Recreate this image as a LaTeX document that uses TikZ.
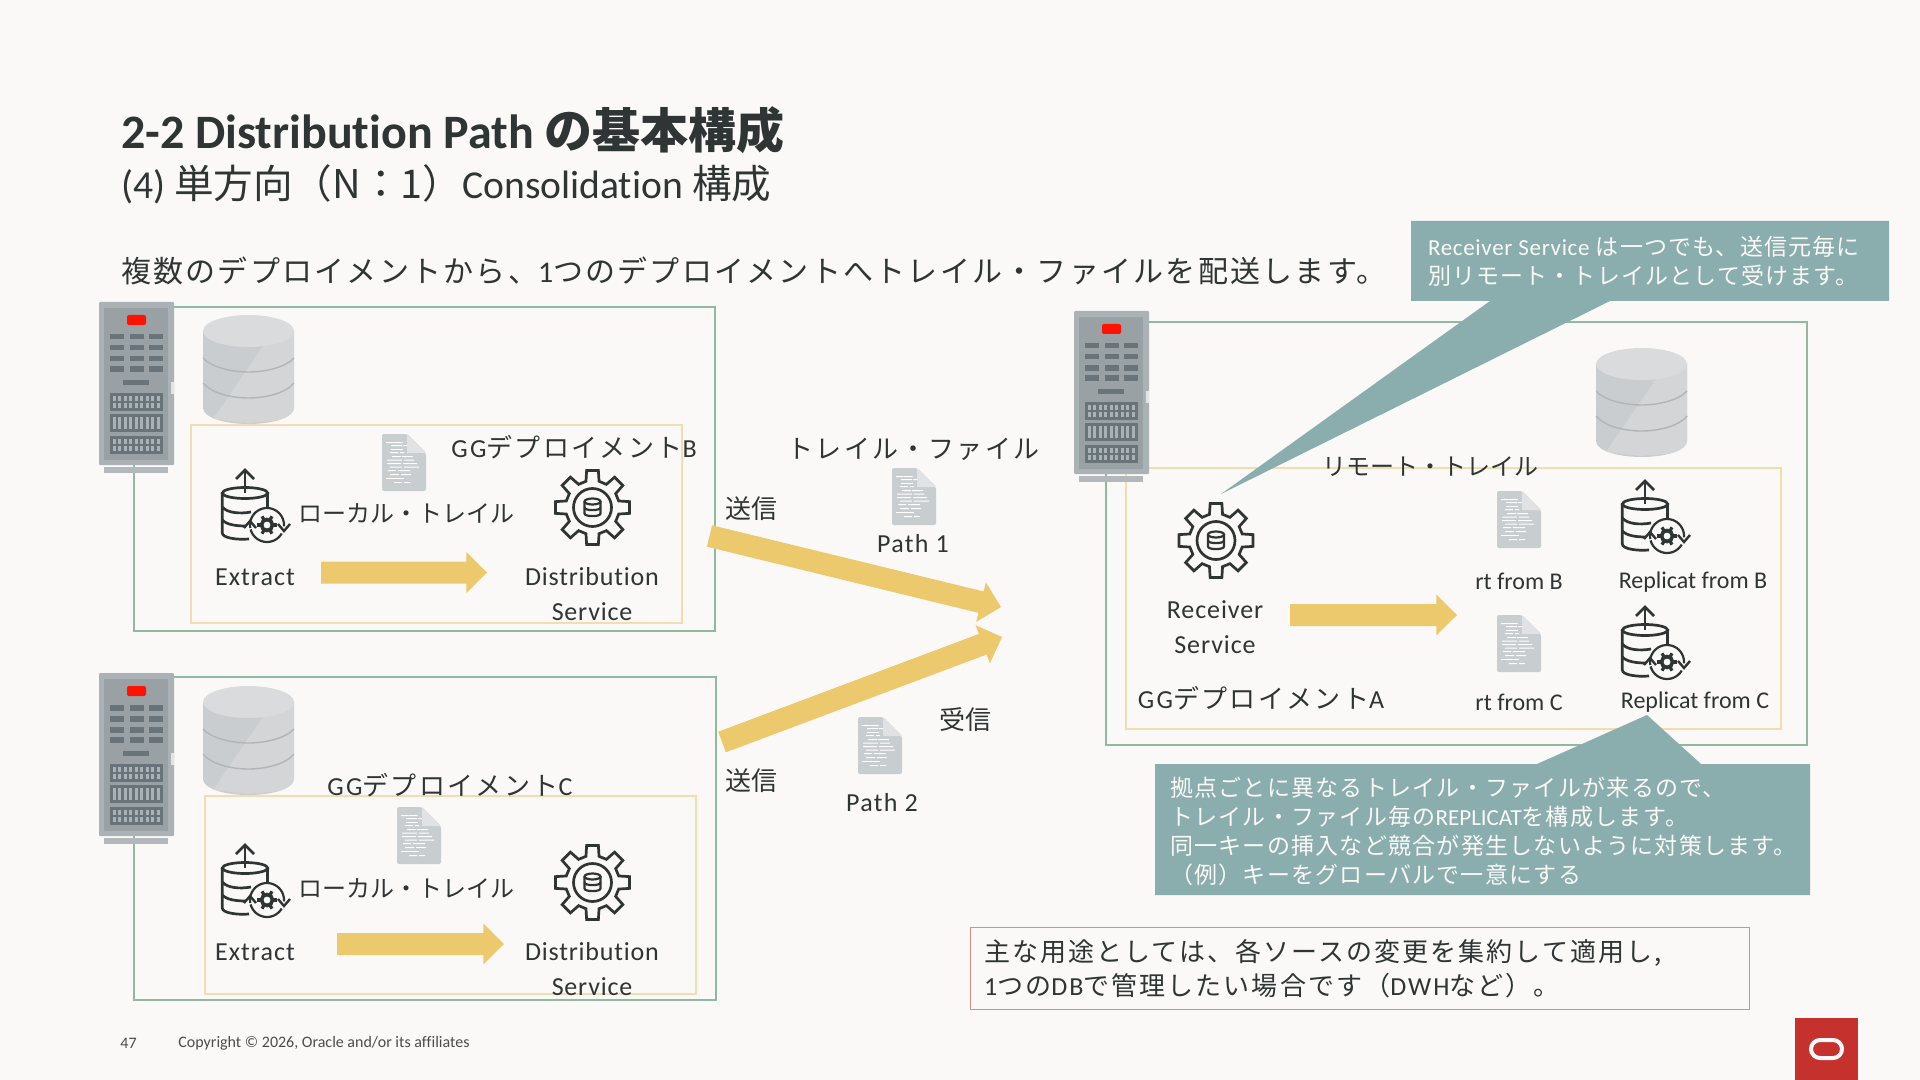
\documentclass[tikz,border=0pt]{standalone}
\usepackage{fontspec}
\usetikzlibrary{calc}
\setmainfont{Carlito}[Ligatures=NoCommon]
\newfontfamily\jf{Noto Sans CJK JP}
\def\jls{}
\newcommand\J[1]{{\jf\jls #1}}
\newcommand\Sz[3]{\fontsize{#1}{#2}\selectfont\def\jls{\addfontfeature{LetterSpace=#3}}\jls}
\newcommand\Tight[2]{{\addfontfeature{LetterSpace=#1}#2}}
\definecolor{bgc}{HTML}{FBF9F8}
\definecolor{ink}{HTML}{2F3434}
\definecolor{frameg}{HTML}{8FB9A0}
\definecolor{frameo}{HTML}{F3DDB0}
\definecolor{flowc}{HTML}{EDC96E}
\definecolor{teal}{HTML}{89AEAD}
\definecolor{redl}{HTML}{DC8C86}
\definecolor{orared}{HTML}{C5322E}
\definecolor{srvo}{HTML}{ABB2B5}
\definecolor{srvi}{HTML}{99A1A5}
\definecolor{srvd}{HTML}{69747A}
\definecolor{srvb}{HTML}{B2B8BB}
\definecolor{docc}{HTML}{C8CDD0}
\definecolor{docf}{HTML}{E0E3E5}
\definecolor{dbtop}{HTML}{D9DBDD}
\definecolor{dbleft}{HTML}{CACDCF}
\definecolor{dbright}{HTML}{D3D5D7}
\definecolor{dbband}{HTML}{B0B5B7}
\newcommand\FlowArrow[2]{%
  \coordinate (hb) at ($(#2)!\fhl!(#1)$);
  \fill[flowc] ($(#1)!\fbw!90:(#2)$) -- ($(hb)!\fbw!90:(#2)$) -- ($(hb)!\fhw!90:(#2)$) -- (#2)
    -- ($(hb)!\fhw!-90:(#2)$) -- ($(hb)!\fbw!-90:(#2)$) -- ($(#1)!\fbw!-90:(#2)$) -- cycle;}
\def\fbw{5.5pt}\def\fhw{10.2pt}\def\fhl{10.3pt}
\tikzset{
  x=0.5pt,y=-0.5pt,
  lab/.style={inner sep=0pt,text=ink,outer sep=0pt},
  wlab/.style={inner sep=0pt,text=bgc,outer sep=0pt},
  gframe/.style={draw=frameg,line width=1.4pt},
  oframe/.style={draw=frameo,line width=0.6pt},
  icon/.style={draw=ink,line width=1.35pt,line join=miter},
  serverpic/.pic={
    \fill[srvo,rounded corners=0.5pt] (0,0) rectangle (75,163);
    \fill[srvi] (5,6) rectangle (69,158);
    \fill[srvb] (5,165) rectangle (69,171);
    \fill[bgc!70!srvo] (72,80) rectangle (75,92);
    \fill[red!85!orange,rounded corners=1pt] (28,13) rectangle (47,23);
    \foreach \r in {32,43,54,64}{
      \foreach \c in {11,31,50}{\fill[srvd] (\c,\r) rectangle ++(14,5.5);}}
    \fill[srvd] (24,78) rectangle (50,83);
    \fill[srvd] (11,91) rectangle (64,109);
    \fill[srvd] (11,112) rectangle (64,130);
    \fill[srvd] (11,134) rectangle (64,152);
    \foreach \c in {0,...,8}{
      \fill[srvo] ({13.5+\c*5.5},94) rectangle ++(3.4,4.5);
      \fill[srvo] ({13.5+\c*5.5},101) rectangle ++(3.4,4.5);
      \fill[srvo] ({13.5+\c*5.5},115) rectangle ++(3,12);
      \fill[srvo] ({13.5+\c*5.5},137) rectangle ++(3.4,4.5);
      \fill[srvo] ({13.5+\c*5.5},144) rectangle ++(3.4,4.5);}
  },
  dbpic/.pic={
    \path[fill=dbleft] (0,16) -- (0,93) .. controls (0,102) and (20,109) .. (45.5,109) .. controls (71,109) and (91,102) .. (91,93) -- (91,16) -- cycle;
    \begin{scope}
      \clip (0,16) -- (0,93) .. controls (0,102) and (20,109) .. (45.5,109) .. controls (71,109) and (91,102) .. (91,93) -- (91,16) -- cycle;
      \fill[dbright] (62,28) -- (91,14) -- (91,104) -- (45,108) -- (10,104) -- cycle;
    \end{scope}
    \fill[dbtop] (45.5,16) ellipse[x radius=45.5,y radius=16];
    \draw[dbband,line width=0.7pt] (0,43) .. controls (8,52) and (28,57) .. (45.5,57) .. controls (63,57) and (83,52) .. (91,43);
    \draw[dbband,line width=0.7pt] (0,68) .. controls (8,78) and (28,83) .. (45.5,83) .. controls (63,83) and (83,78) .. (91,68);
  },
  docpic/.pic={
    \fill[docc,rounded corners=1pt] (0,0) -- (25,0) -- (44,19) -- (44,57) -- (0,57) -- cycle;
    \fill[docf] (25,0) -- (44,19) -- (25,19) -- cycle;
    \fill[white] (4,8) rectangle ++(7,1) (11.5,8) rectangle ++(9,1);
    \fill[white] (9,11) rectangle ++(11,1) (21,11) rectangle ++(4,1);
    \fill[white] (9,14.5) rectangle ++(12,1);
    \fill[white] (8,18) rectangle ++(8,1) (18,18) rectangle ++(4,1);
    \fill[white] (10,22) rectangle ++(9,1) (20,22) rectangle ++(11,1);
    \fill[white] (5,25.5) rectangle ++(15,1) (22,25.5) rectangle ++(10,1);
    \fill[white] (5,29) rectangle ++(14,1) (21,29) rectangle ++(14,1);
    \fill[white] (8,32.5) rectangle ++(12,1) (22,32.5) rectangle ++(15,1);
    \fill[white] (6,36) rectangle ++(8,1) (16,36) rectangle ++(12,1);
    \fill[white] (8,40) rectangle ++(9,1) (19,40) rectangle ++(10,1);
    \fill[white] (4,44) rectangle ++(18,1);
    \fill[white] (12,48) rectangle ++(8,1) (22,48) rectangle ++(6,1);
  },
  gearpic/.pic={
    \draw[icon] (-14:27) \foreach \a in {0,45,...,315} { -- (\a-14:27) -- (\a-9:37.5) -- (\a+9:37.5) -- (\a+14:27) } -- cycle;
    \draw[icon] (0,0) circle[radius=19];
    \draw[icon,line width=1.1pt] (-8,-6) -- (-8,6) .. controls (-8,9.5) and (8,9.5) .. (8,6) -- (8,-6);
    \draw[icon,line width=1.1pt] (0,-6) ellipse[x radius=8,y radius=3];
    \draw[icon,line width=1.1pt] (-8,0) .. controls (-8,3.5) and (8,3.5) .. (8,0);
  },
  extractpic/.pic={
    \draw[icon] (30,28) -- (30,5);
    \draw[icon] (21,14) -- (30,5) -- (39,14);
    \draw[icon] (30,28) ellipse[x radius=22.7,y radius=5.5];
    \draw[icon] (7.3,28) -- (7.3,68) .. controls (7.3,73) and (22,75) .. (34,74);
    \draw[icon] (52.7,28) -- (52.7,44);
    \draw[icon] (7.3,42) .. controls (12,48) and (25,49) .. (36,47);
    \draw[icon] (7.3,55) .. controls (12,60) and (22,61) .. (31,61);
    \draw[icon,line width=1.1pt] plot[domain=190:-5,samples=24] ({52+17*cos(\x)},{60-17*sin(\x)});
    \draw[icon,line width=1.1pt] plot[domain=-30:-165,samples=20] ({52+17*cos(\x)},{60-17*sin(\x)});
    \draw[icon,line width=1.2pt] (29,63) -- (35,56) -- (41,63);
    \draw[icon,line width=1.2pt] (63,59) -- (69,66) -- (75,59);
    \draw[ink,line width=1.8pt] (52,60) circle[radius=5.5];
    \foreach \a in {0,60,...,300}{\draw[ink,line width=1.6pt] ($(52,60)+(\a:5)$) -- ($(52,60)+(\a:10)$);}
  },
}
\begin{document}
\begin{tikzpicture}
\useasboundingbox (0,0) rectangle (1920,1080);
\fill[bgc] (0,0) rectangle (1920,1080);

% title
\node[lab,anchor=base west] (title) at (121,149) {\Sz{24}{28}{0}\bfseries 2-2 Distribution Path \J{の基本構成}};
\node[lab,anchor=base west] (subtitle) at (121,199) {\Sz{19.8}{24}{0}(4) \J{単方向（N：1）}Consolidation \J{構成}};
\node[lab,anchor=base west] (intro) at (121,283) {\Sz{15}{18}{7.5}\J{複数のデプロイメントから、}1\J{つのデプロイメントへトレイル・ファイルを配送します。}};

% frames B
\draw[gframe] (134,307) rectangle (715,631);
\draw[oframe] (191,425) rectangle (682,623);
% frames C
\draw[gframe] (134,677) rectangle (716,1000);
\draw[oframe] (205,796) rectangle (696,994);
% frames A
\draw[gframe] (1106,322) rectangle (1807,745);
\draw[oframe] (1126,468) rectangle (1781,729);

% servers and databases
\pic (srvb) at (99,302) {serverpic};
\pic (srvc) at (99,673) {serverpic};
\pic (srva) at (1074,311) {serverpic};
\pic (dbb) at (203,315) {dbpic};
\pic (dbc) at (203,686) {dbpic};
\pic (dba) at (1596,348) {dbpic};

% documents
\pic (docb) at (382,434) {docpic};
\pic (docc1) at (397,807) {docpic};
\pic (docp1) at (892,468) {docpic};
\pic (docp2) at (858,717) {docpic};
\pic (docra) at (1497,491) {docpic};
\pic (docrb) at (1497,615) {docpic};

% icons
\pic (extb) at (215,465) {extractpic};
\pic (extc) at (215,840) {extractpic};
\pic (repb) at (1615,476) {extractpic};
\pic (repc) at (1615,602) {extractpic};
\pic (gearb) at (592.5,507.5) {gearpic};
\pic (gearc) at (592.5,882.5) {gearpic};
\pic (geara) at (1216,540.5) {gearpic};

% flow arrows
\coordinate (fb1) at (321,572.5); \coordinate (fb2) at (487,572.5);
\coordinate (fc1) at (337,944); \coordinate (fc2) at (504,944);
\coordinate (fa1) at (1290,615); \coordinate (fa2) at (1457,615);
\coordinate (p1a) at (709.5,536); \coordinate (p1b) at (1001,607);
\coordinate (p2a) at (722,742); \coordinate (p2b) at (1002,637);
\FlowArrow{fb1}{fb2}
\FlowArrow{fc1}{fc2}
\FlowArrow{fa1}{fa2}
\FlowArrow{p1a}{p1b}
\FlowArrow{p2a}{p2b}

% callouts
\fill[teal] (1411,221) -- (1889,221) -- (1889,301) -- (1610,301) -- (1221,494) -- (1490,301) -- (1411,301) -- cycle;
\fill[teal] (1155,764) -- (1537,764) -- (1647,715) -- (1701,764) -- (1810,764) -- (1810,895) -- (1155,895) -- cycle;
\node[wlab,anchor=west,align=left,font={\Sz{11.5}{14.5}{5}}] (note1) at (1428,261.5) {\Tight{3}{Receiver Service} \J{は一つでも、送信元毎に}\\\J{別リモート・トレイルとして受けます。}};
\node[wlab,anchor=west,align=left,font={\Sz{11.5}{14.5}{5.5}}] (note2) at (1170,831) {\J{拠点ごとに異なるトレイル・ファイルが来るので、}\\\J{トレイル・ファイル毎の}\Tight{0}{REPLICAT}\J{を構成します。}\\\J{同一キーの挿入など競合が発生しないように対策します。}\\\J{（例）キーをグローバルで一意にする}};

% red box
\draw[redl,line width=0.5pt,fill=bgc] (970,927) rectangle (1749,1009);
\node[lab,anchor=west,align=left,font={\Sz{13}{17}{8}}] (note3) at (984,969) {\J{主な用途としては、各ソースの変更を集約して適用し,}\\1\J{つの}DB\J{で管理したい場合です（}DWH\J{など）。}};

% labels B
\node[lab,font={\Sz{13}{16}{9}}] (gb) at (574,447) {GG\J{デプロイメント}B};
\node[lab,font={\Sz{12}{15}{0}}] (ltb) at (406.5,513) {\J{ローカル・トレイル}};
\node[lab,font={\Sz{13}{16}{4}}] (exb) at (255,577) {Extract};
\node[lab,align=center,font={\Sz{13}{17.5}{3}}] (dsb) at (592,594.5) {Distribution\\Service};
% labels C
\node[lab,font={\Sz{13}{16}{9}}] (gc) at (450,785) {GG\J{デプロイメント}C};
\node[lab,font={\Sz{12}{15}{0}}] (ltc) at (406.5,888) {\J{ローカル・トレイル}};
\node[lab,font={\Sz{13}{16}{4}}] (exc) at (255,952) {Extract};
\node[lab,align=center,font={\Sz{13}{17.5}{3}}] (dsc) at (592,969) {Distribution\\Service};
% middle labels
\node[lab,font={\Sz{13}{16}{0}}] (tx1) at (751.5,509) {\J{送信}};
\node[lab,font={\Sz{13}{16}{0}}] (tx2) at (751.5,781) {\J{送信}};
\node[lab,font={\Sz{13}{16}{0}}] (rx) at (965.5,720) {\J{受信}};
\node[lab,font={\Sz{13}{16}{8.5}}] (tf) at (913.5,449) {\J{トレイル・ファイル}};
\node[lab,font={\Sz{13}{16}{5}}] (pa1) at (913,544) {Path 1};
\node[lab,font={\Sz{13}{16}{5}}] (pa2) at (882,803) {Path 2};
% labels A
\node[lab,font={\Sz{12}{15}{0}}] (rt) at (1430,467) {\J{リモート・トレイル}};
\node[lab,align=center,font={\Sz{13}{17.5}{3.5}}] (rs) at (1215,627) {Receiver\\Service};
\node[lab,font={\Sz{13}{16}{9}}] (ga) at (1261,698) {GG\J{デプロイメント}A};
\node[lab,font={\Sz{12}{15}{0}}] (rtb) at (1519,581) {rt from B};
\node[lab,font={\Sz{12}{15}{0}}] (rtc) at (1519,702) {rt from C};
\node[lab,font={\Sz{12}{15}{0}}] (rpb) at (1693,582) {Replicat from B};
\node[lab,font={\Sz{12}{15}{0}}] (rpc) at (1695,702.5) {Replicat from C};

% footer
\node[anchor=west,inner sep=0pt,text=black!70,font={\Sz{8}{10}{0}}] (pg) at (120,1043) {47};
\node[anchor=west,inner sep=0pt,text=black!70,font={\Sz{8}{10}{0}}] (copy) at (178,1043) {Copyright © 2026, Oracle and/or its affiliates};

% logo
\fill[orared] (1795,1018) rectangle (1858,1080);
\draw[bgc,line width=2pt] (1820,1040) -- (1833,1040) arc[start angle=90,end angle=-90,radius=4.5pt] -- (1820,1058) arc[start angle=270,end angle=90,radius=4.5pt] -- cycle;
\end{tikzpicture}
\end{document}
